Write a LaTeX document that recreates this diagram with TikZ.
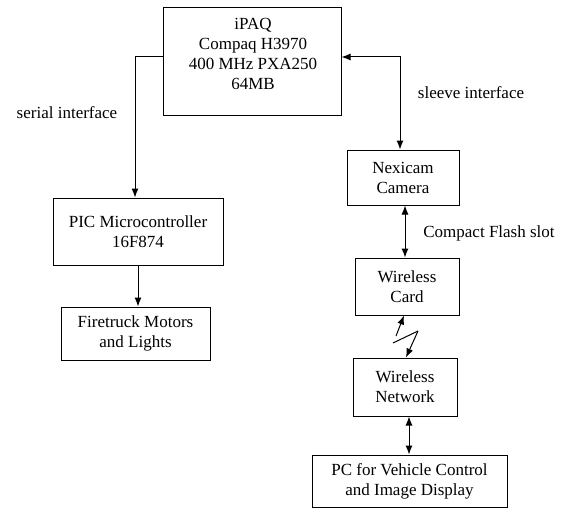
\documentclass[tikz,border=0pt]{standalone}
\usepackage{fontspec}
\setmainfont{Liberation Serif}
\usetikzlibrary{arrows.meta}
\begin{document}
\begin{tikzpicture}[x=1pt,y=-1pt,
  box/.style={draw,line width=1pt,inner sep=0pt,align=center,font=\fontsize{17}{20}\selectfont},
  txt/.style={inner sep=0pt,align=center,font=\fontsize{17}{20}\selectfont},
  lbl/.style={inner sep=0pt,font=\fontsize{17}{20}\selectfont},
  conn/.style={line width=1pt,-{Latex[length=9pt,width=7pt]}},
  dconn/.style={line width=1pt,{Latex[length=9pt,width=7pt]}-{Latex[length=9pt,width=7pt]}}]
\useasboundingbox (0,0) rectangle (567,508);
% boxes
\node[box,minimum width=178pt,minimum height=108pt] (ipaq) at (252,62) {};
\node[txt] (ipaqt) at (253,54) {iPAQ\\Compaq H3970\\400 MHz PXA250\\64MB};
\node[box,minimum width=170pt,minimum height=67pt] (pic) at (138,231.5) {PIC Microcontroller\\16F874};
\node[box,minimum width=149pt,minimum height=53pt] (fire) at (135.5,333.5) {Firetruck Motors\\and Lights};
\node[box,minimum width=112pt,minimum height=55pt] (nex) at (403,177.5) {Nexicam\\Camera};
\node[box,minimum width=104pt,minimum height=57pt] (card) at (407,286.5) {Wireless\\Card};
\node[box,minimum width=104pt,minimum height=58pt] (net) at (405,387) {Wireless\\Network};
\node[box,minimum width=195pt,minimum height=52pt] (pc) at (409.5,481) {PC for Vehicle Control\\and Image Display};
% labels
\node[lbl] (serlbl) at (67,113) {serial interface};
\node[lbl] (slvlbl) at (471,93) {sleeve interface};
\node[lbl] (cflbl) at (489,233) {Compact Flash slot};
% connectors
\draw[conn] ([yshift=5pt]ipaq.west) -| ([xshift=-3pt]pic.north);
\draw[dconn] ([yshift=5pt]ipaq.east) -| ([xshift=-3pt]nex.north);
\draw[dconn] ([xshift=2pt]nex.south) -- ([xshift=2pt]nex.south |- card.north);
\draw[dconn] ([xshift=4pt]net.south) -- ([xshift=4pt]net.south |- pc.north);
\draw[conn] (pic.south) -- (pic.south |- fire.north);
% wireless link
\coordinate (za) at (396,336);
\coordinate (zb) at (393,343);
\coordinate (zc) at (418,331);
\draw[conn] (za) -- ([xshift=-3pt]card.south);
\draw[line width=1pt] (zb) -- (zc);
\draw[conn] (zc) -- ([xshift=1pt]net.north);
\end{tikzpicture}
\end{document}
